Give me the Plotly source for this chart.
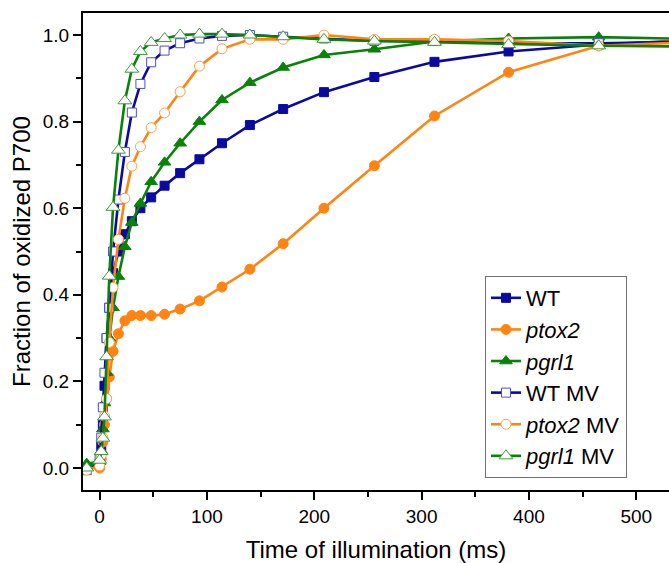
import plotly.graph_objects as go

# Time of illumination (ms), shared by all series
time_ms = [-12, 0, 1.5, 3, 4.5, 6.5, 9, 12.5, 17.5, 23.5, 30, 38, 48, 60.5, 75, 93,
           114, 140, 171, 209, 256, 312, 381, 465, 567]

wt = [0.0, 0.01, 0.05, 0.10, 0.19, 0.30, 0.37, 0.45, 0.50, 0.54, 0.57, 0.60, 0.625,
      0.652, 0.681, 0.713, 0.75, 0.792, 0.829, 0.868, 0.903, 0.938, 0.962, 0.978, 0.99]
ptox2 = [0.0, 0.0, 0.02, 0.06, 0.10, 0.16, 0.21, 0.27, 0.31, 0.34, 0.352, 0.352, 0.352,
         0.355, 0.367, 0.386, 0.418, 0.459, 0.518, 0.600, 0.698, 0.813, 0.914, 0.975, 0.99]
pgrl1 = [0.01, 0.015, 0.04, 0.09, 0.15, 0.22, 0.30, 0.37, 0.442, 0.511, 0.567, 0.611, 0.661,
         0.706, 0.75, 0.80, 0.85, 0.89, 0.925, 0.954, 0.967, 0.985, 0.992, 0.995, 0.99]
wt_mv = [-0.005, 0.02, 0.07, 0.14, 0.22, 0.30, 0.37, 0.50, 0.62, 0.73, 0.821, 0.887, 0.937,
         0.964, 0.981, 0.992, 0.998, 1.0, 0.996, 0.992, 0.986, 0.986, 0.981, 0.981, 0.985]
ptox2_mv = [-0.005, 0.005, 0.03, 0.07, 0.12, 0.16, 0.29, 0.417, 0.528, 0.623, 0.697, 0.742, 0.786,
            0.820, 0.869, 0.928, 0.968, 0.99, 0.99, 1.0, 0.99, 0.99, 0.986, 0.975, 0.985]
pgrl1_mv = [0.0, 0.018, 0.038, 0.069, 0.118, 0.257, 0.443, 0.602, 0.734, 0.848, 0.921, 0.962, 0.983,
            0.992, 1.0, 1.002, 1.002, 1.0, 0.996, 0.99, 0.986, 0.983, 0.978, 0.975, 0.973]

names = ["WT", "<i>ptox2</i>", "<i>pgrl1</i>", "WT MV", "<i>ptox2</i> MV", "<i>pgrl1</i> MV"]
series = [wt, ptox2, pgrl1, wt_mv, ptox2_mv, pgrl1_mv]

BLUE = "#0A0AA0"
ORANGE = "#FF8411"
GREEN = "#0A820A"
LBLUE = "#4D4DD0"
LORANGE = "#FFA04D"
LGREEN = "#3C9A3C"

styles = [
    dict(color=BLUE, symbol="square", size=9, fill=BLUE, mline=BLUE),
    dict(color=ORANGE, symbol="circle", size=10, fill=ORANGE, mline=ORANGE),
    dict(color=GREEN, symbol="triangle-up", size=11, fill=GREEN, mline=GREEN),
    dict(color=BLUE, symbol="square", size=9, fill="white", mline=LBLUE),
    dict(color=ORANGE, symbol="circle", size=10, fill="white", mline=LORANGE),
    dict(color=GREEN, symbol="triangle-up", size=12, fill="white", mline=LGREEN),
]

fig = go.Figure()
for name, ys, st in zip(names, series, styles):
    fig.add_trace(go.Scatter(
        x=time_ms, y=ys, name=name, mode="lines+markers",
        line=dict(color=st["color"], width=2.6),
        marker=dict(symbol=st["symbol"], size=st["size"], color=st["fill"],
                    line=dict(color=st["mline"], width=1)),
        cliponaxis=True,
    ))

FONT = "Liberation Sans, Arial, sans-serif"

fig.update_layout(
    width=669, height=563,
    margin=dict(l=83, r=0, t=13, b=73),
    paper_bgcolor="white", plot_bgcolor="white",
    font=dict(family=FONT, color="black"),
    showlegend=True,
    legend=dict(
        x=0.686, y=0.4486, xanchor="left", yanchor="top",
        bgcolor="white", bordercolor="#707070", borderwidth=1,
        font=dict(family=FONT, size=22, color="black"),
        tracegroupgap=0, itemsizing="trace",
    ),
)
fig.update_xaxes(
    range=[-15.5, 530.5], showgrid=False, zeroline=False, automargin=False,
    showline=True, linecolor="black", linewidth=2, mirror=True,
    ticks="outside", ticklen=8, tickwidth=2, tickcolor="black",
    tickvals=[0, 100, 200, 300, 400, 500],
    tickfont=dict(size=19, family=FONT),
    minor=dict(ticks="outside", ticklen=5, tickwidth=2, tickcolor="black", dtick=50, tick0=0),
    title=dict(text="Time of illumination (ms)", font=dict(size=24, family=FONT), standoff=17),
)
fig.update_yaxes(
    range=[-0.0508, 1.0508], showgrid=False, zeroline=False, automargin=False,
    showline=True, linecolor="black", linewidth=2, mirror=False,
    ticks="outside", ticklen=8, tickwidth=2, tickcolor="black",
    tickvals=[0, 0.2, 0.4, 0.6, 0.8, 1.0], ticktext=["0.0", "0.2", "0.4", "0.6", "0.8", "1.0"],
    tickfont=dict(size=19, family=FONT),
    minor=dict(ticks="outside", ticklen=5, tickwidth=2, tickcolor="black", dtick=0.1, tick0=0),
    title=dict(text="Fraction of oxidized P700", font=dict(size=24, family=FONT), standoff=5),
)

fig.write_html("out.html", config={"displayModeBar": False},
               post_script="document.body.style.margin='0';")
